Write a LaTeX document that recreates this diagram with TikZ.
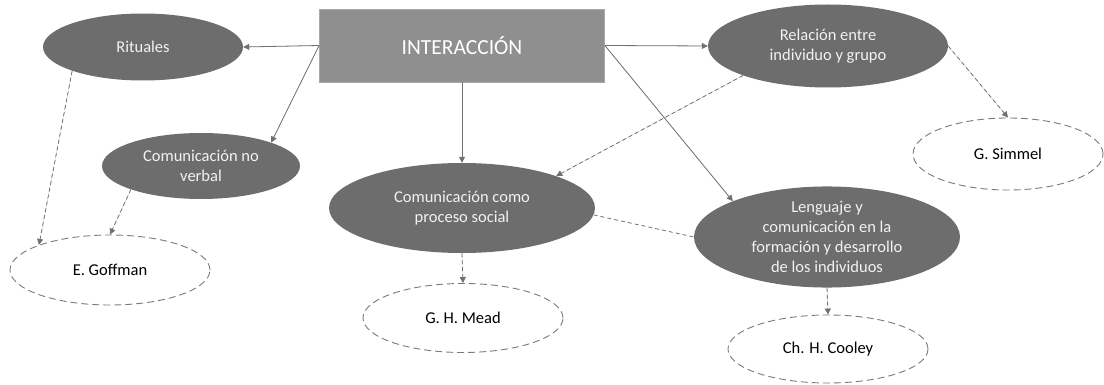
\documentclass[tikz,border=0pt]{standalone}
\usepackage{fontspec}
\setmainfont{Carlito}
\usetikzlibrary{shapes.geometric,arrows.meta}
\definecolor{darkfill}{HTML}{6D6D6D}
\definecolor{boxfill}{HTML}{8F8F8F}
\definecolor{boxline}{HTML}{A8A8A8}
\definecolor{linec}{HTML}{707070}
\definecolor{dashc}{HTML}{7A7A7A}
\tikzset{
  mainbox/.style={rectangle, fill=boxfill, draw=boxline, line width=0.8pt, minimum width=285pt, minimum height=73pt, inner sep=0pt, text=white, font=\fontsize{21.5}{25}\selectfont},
  topic/.style={ellipse, fill=darkfill, draw=none, inner sep=0pt, text=white!95!black, align=center, font=\fontsize{16.5}{20}\selectfont},
  author/.style={ellipse, draw=dashc, dash pattern=on 7pt off 4pt, line width=0.9pt, fill=white, inner sep=0pt, text=black, align=center, font=\fontsize{16.5}{20}\selectfont},
  solidarrow/.style={draw=linec, line width=0.8pt, -{Triangle[length=6pt,width=6pt]}, fill=linec},
  dasharrow/.style={draw=linec, line width=0.8pt, dash pattern=on 4pt off 3pt, -{Triangle[length=6pt,width=6pt]}, fill=linec},
  dashline/.style={draw=linec, line width=0.8pt, dash pattern=on 4pt off 3pt}
}
\begin{document}
\begin{tikzpicture}[x=1pt,y=-1pt]
\useasboundingbox (0,0) rectangle (1104,385);
\node[mainbox] (box) at (462,45.5) {INTERACCIÓN};
\node[topic, minimum width=200pt, minimum height=67pt] (rit) at (143,47) {Rituales};
\node[topic, minimum width=198pt, minimum height=66pt] (cnv) at (201,166) {Comunicación no\\verbal};
\node[topic, minimum width=266pt, minimum height=90pt] (ccps) at (462,208) {Comunicación como\\proceso social};
\node[topic, minimum width=240pt, minimum height=83pt] (rel) at (828,46) {Relación entre\\individuo y grupo};
\node[topic, minimum width=266pt, minimum height=91pt] (len) at (827,237) {Lenguaje y\\comunicación en la\\formación y desarrollo\\de los individuos};
\node[author, minimum width=200pt, minimum height=70pt] (gof) at (110,270) {E. Goffman};
\node[author, minimum width=200pt, minimum height=69pt] (mead) at (463,318) {G. H. Mead};
\node[author, minimum width=190pt, minimum height=72pt] (sim) at (1008,154) {G. Simmel};
\node[author, minimum width=200pt, minimum height=68pt] (coo) at (828,349) {Ch. H. Cooley};

\draw[solidarrow] (box.west) -- (rit.east);
\draw[solidarrow] (box.west) -- (cnv.north east);
\draw[solidarrow] (box.south) -- (ccps.north);
\draw[solidarrow] (box.east) -- (rel.west);
\draw[solidarrow] (box.east) -- (len.north west);

\draw[dasharrow] (rit.south west) -- (gof.north west);
\draw[dasharrow] (cnv.south west) -- (gof.north);
\draw[dasharrow] (ccps.south) -- (mead.north);
\draw[dasharrow] (rel.south west) -- (ccps.north east);
\draw[dasharrow] (rel.east) -- (sim.north);
\draw[dasharrow] (len.south) -- (coo.north);
\draw[dashline] (ccps.-3) -- (len.west);
\end{tikzpicture}
\end{document}
